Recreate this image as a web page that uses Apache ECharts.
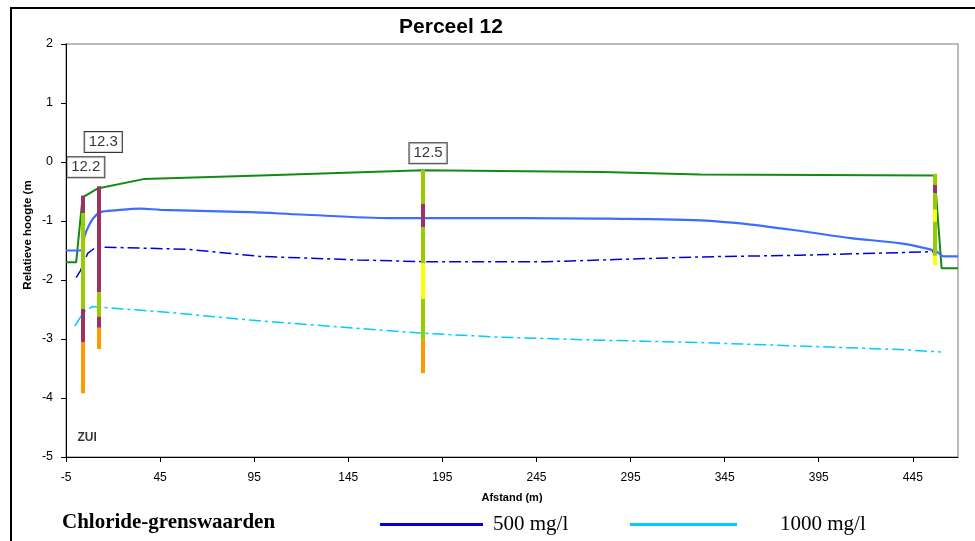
<!DOCTYPE html>
<html>
<head>
<meta charset="utf-8">
<script src="https://cdn.jsdelivr.net/npm/echarts@6/dist/echarts.min.js"></script>
<style>html,body{margin:0;padding:0;background:#fff}#c{width:975px;height:541px}</style>
</head>
<body>
<div id="c"></div>
<script>
// ---- data ----
const xTicksMin = -5, xTicksMax = 469, xInterval = 50;
const yMin = -5, yMax = 2, yInterval = 1;

const groundX = [-5, 0.4, 3.8, 11.7, 36.2, 98.4, 184.5, 280, 332, 456.6, 460.3, 469];
const groundY = [-1.70, -1.70, -0.60, -0.45, -0.29, -0.23, -0.14, -0.17, -0.21, -0.23, -1.80, -1.80];

const waterX = [-5, 2.7, 4.8, 7.0, 9.6, 13.3, 21.3, 34.6, 45.2, 66.5, 93.1, 119.7, 167.5, 199.4, 279.2, 332.3, 358.9, 385.5, 412.1, 438.6, 457.2, 461.4, 469];
const waterY = [-1.50, -1.50, -1.26, -1.09, -0.95, -0.85, -0.82, -0.79, -0.81, -0.83, -0.85, -0.89, -0.95, -0.95, -0.96, -0.99, -1.06, -1.17, -1.29, -1.38, -1.51, -1.60, -1.60];

const chl500X = [0.4, 2.7, 6.5, 11, 60, 98, 150, 185, 250, 290, 330, 385, 457];
const chl500Y = [-1.96, -1.84, -1.55, -1.44, -1.48, -1.60, -1.66, -1.69, -1.69, -1.65, -1.61, -1.58, -1.52];

const chl1000X = [-0.3, 4.5, 8.9, 33.5, 53.2, 93, 183.5, 226, 279, 332, 385.5, 438.6, 459.9];
const chl1000Y = [-2.78, -2.54, -2.45, -2.51, -2.56, -2.68, -2.90, -2.97, -3.02, -3.06, -3.12, -3.18, -3.22];

// borehole segments: x, top, bottom, kind (0 purple, 1 green, 2 yellow, 3 orange)
const segX      = [4, 4, 4, 4,  12.4, 12.4, 12.4, 12.4,  184.5, 184.5, 184.5, 184.5, 184.5, 184.5,  456.8, 456.8, 456.8, 456.8, 456.8, 456.8];
const segTop    = [-0.57, -0.87, -2.49, -3.06,  -0.41, -2.21, -2.62, -2.81,  -0.13, -0.71, -1.11, -1.72, -2.32, -3.02,  -0.20, -0.39, -0.53, -0.81, -1.01, -1.59];
const segBottom = [-0.87, -2.49, -3.06, -3.92,  -2.21, -2.62, -2.81, -3.17,  -0.71, -1.11, -1.72, -2.32, -3.02, -3.58,  -0.39, -0.53, -0.81, -1.01, -1.59, -1.75];
const segKind   = [0, 1, 0, 3,  0, 1, 0, 3,  1, 0, 1, 2, 1, 3,  1, 0, 1, 2, 1, 2];
const kindColors = ['#993366', '#99cc00', '#ffff00', '#ff9900'];

const boreLabels = ['12.2', '12.3', '12.5'];
const boreLabelX = [5.5, 14.8, 187.4];
const boreLabelY = [-0.09, 0.34, 0.15];

const zoneText = 'ZUI';
const zoneX = 6.2, zoneY = -4.67;

// ---- chart ----
const zip = (a, b) => a.map((v, i) => [v, b[i]]);
const chart = echarts.init(document.getElementById('c'), null, {renderer: 'canvas'});
const sans = 'Liberation Sans, Arial, sans-serif';
const serif = 'Liberation Serif, Times New Roman, serif';

chart.setOption({
  animation: false,
  backgroundColor: '#fff',
  grid: {left: 66, right: 17, top: 44, bottom: 84, show: true, borderColor: '#a6a6a6', borderWidth: 1.5, backgroundColor: 'transparent'},
  xAxis: {
    type: 'value', min: xTicksMin, max: xTicksMax, interval: xInterval,
    name: 'Afstand (m)', nameLocation: 'middle', nameGap: 35,
    nameTextStyle: {fontFamily: sans, fontWeight: 'bold', fontSize: 11, color: '#000'},
    axisLine: {show: true, onZero: false, lineStyle: {color: '#000', width: 1}},
    axisTick: {show: true, length: 5, lineStyle: {color: '#000'}},
    axisLabel: {fontFamily: sans, fontSize: 12, color: '#000', margin: 15, showMaxLabel: false},
    splitLine: {show: false}
  },
  yAxis: {
    type: 'value', min: yMin, max: yMax, interval: yInterval,
    axisLine: {show: true, onZero: false, lineStyle: {color: '#000', width: 1}},
    axisTick: {show: true, length: 5, lineStyle: {color: '#000'}},
    axisLabel: {fontFamily: sans, fontSize: 12.5, color: '#000', margin: 13},
    splitLine: {show: false}
  },
  legend: [
    {data: [{name: '500 mg/l', icon: 'rect', itemStyle: {color: '#0000dd'}}], left: 380, top: 514, padding: 0, itemWidth: 103, itemHeight: 3, selectedMode: false,
     textStyle: {fontFamily: serif, fontSize: 21, color: '#000', padding: [0, 0, 0, 5]}},
    {data: [{name: '1000 mg/l', icon: 'rect', itemStyle: {color: '#00ccff'}}], left: 630, top: 514, padding: 0, itemWidth: 107, itemHeight: 3, selectedMode: false,
     textStyle: {fontFamily: serif, fontSize: 21, color: '#000', padding: [0, 0, 0, 38]}}
  ],
  graphic: [
    {type: 'rect', shape: {x: 11, y: 8, width: 1000, height: 600}, style: {fill: 'none', stroke: '#000', lineWidth: 2}, z: 100},
    {type: 'text', x: 451, y: 27, style: {text: 'Perceel 12', font: 'bold 21px ' + sans, fill: '#000', textAlign: 'center', textVerticalAlign: 'middle'}},
    {type: 'text', x: 62, y: 523, style: {text: 'Chloride-grenswaarden', font: 'bold 21px ' + serif, fill: '#000', textAlign: 'left', textVerticalAlign: 'middle'}},
    {type: 'text', x: 28, y: 235, rotation: Math.PI / 2, style: {text: 'Relatieve hoogte (m', font: 'bold 11.5px ' + sans, fill: '#000', textAlign: 'center', textVerticalAlign: 'middle'}}
  ],
  series: [
    {name: 'Maaiveld', type: 'line', data: zip(groundX, groundY), showSymbol: false, lineStyle: {color: '#138a13', width: 2}, itemStyle: {color: '#138a13'}, z: 3},
    {name: 'Grondwater', type: 'line', data: zip(waterX, waterY), showSymbol: false, smooth: 0.3, lineStyle: {color: '#3d6dff', width: 2.2}, itemStyle: {color: '#3d6dff'}, z: 3},
    {name: '500 mg/l', type: 'line', data: zip(chl500X, chl500Y), showSymbol: false, lineStyle: {color: '#0000dd', width: 1.5, type: [12, 4, 3, 4]}, itemStyle: {color: '#0000dd'}, z: 3},
    {name: '1000 mg/l', type: 'line', data: zip(chl1000X, chl1000Y), showSymbol: false, lineStyle: {color: '#00ccff', width: 1.5, type: [12, 4, 3, 4]}, itemStyle: {color: '#00ccff'}, z: 3},
    {
      name: 'Boringen', type: 'custom', z: 5,
      data: segX.map((x, i) => [x, segTop[i], segBottom[i], segKind[i]]),
      encode: {x: 0, y: [1, 2]},
      renderItem: function (params, api) {
        const p1 = api.coord([api.value(0), api.value(1)]);
        const p2 = api.coord([api.value(0), api.value(2)]);
        return {type: 'rect', shape: {x: Math.round(p1[0]) - 2, y: p1[1], width: 4, height: p2[1] - p1[1]}, style: {fill: kindColors[api.value(3)]}};
      }
    },
    {
      name: 'Labels', type: 'scatter', z: 6, symbolSize: 0,
      data: boreLabels.map((t, i) => ({value: [boreLabelX[i], boreLabelY[i]], name: t})).concat([{value: [zoneX, zoneY], name: zoneText, label: {backgroundColor: 'transparent', borderWidth: 0, fontWeight: 'bold', fontSize: 12, padding: 0}}]),
      label: {show: true, position: 'inside', formatter: p => p.name, fontFamily: sans, fontSize: 15, color: '#000',
        backgroundColor: '#fff', borderColor: '#000', borderWidth: 1, padding: [3, 4, 2, 4]}
    }
  ]
});
</script>
</body>
</html>
